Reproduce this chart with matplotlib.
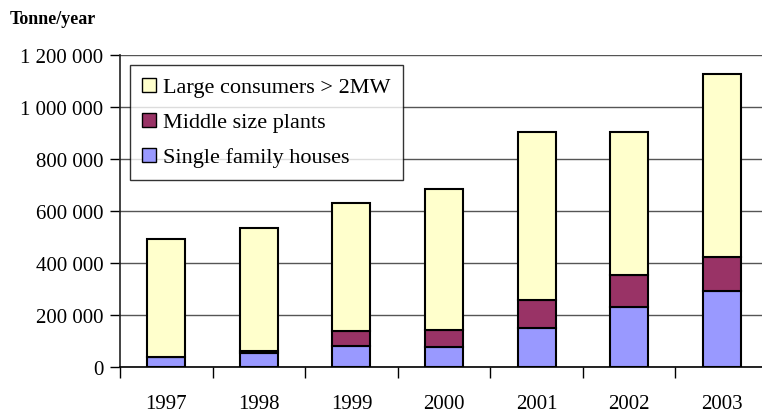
import matplotlib
matplotlib.use("Agg")
import matplotlib.pyplot as plt
from matplotlib.ticker import FuncFormatter, MultipleLocator
from matplotlib.patches import Patch
import numpy as np

years = ["1997", "1998", "1999", "2000", "2001", "2002", "2003"]
single_family = [41000, 54000, 81000, 80000, 151000, 231000, 293000]
middle_size = [0, 9000, 57000, 65000, 109000, 125000, 131000]
large_consumers = [452000, 473000, 493000, 540000, 646000, 550000, 705000]
series_names = ["Single family houses", "Middle size plants", "Large consumers > 2MW"]
colors = ["#9999FF", "#993366", "#FFFFCC"]

plt.rcParams['font.family'] = ['Liberation Serif', 'DejaVu Serif']

fig = plt.figure(figsize=(7.62, 4.14), dpi=100)
ax = fig.add_axes([120/762, (414-368.3)/414, 648/762, 312/414])

x = np.arange(len(years))
w = 0.41
bottom = np.zeros(len(years))
for vals, c in zip([single_family, middle_size, large_consumers], colors):
    ax.bar(x, vals, w, bottom=bottom, color=c, edgecolor='black', linewidth=1.5, zorder=3)
    bottom += np.array(vals)

ax.set_xlim(-0.5, len(years) - 0.5)
ax.set_ylim(0, 1200000)
ax.yaxis.set_major_locator(MultipleLocator(200000))
ax.yaxis.set_major_formatter(FuncFormatter(lambda v, p: f"{int(v):,}".replace(",", " ")))
ax.grid(axis='y', color='#555555', linewidth=1.0, zorder=0)
ax.set_xticks(x)
ax.set_xticklabels(years)
ax.set_xticks(np.arange(len(years) + 1) - 0.5, minor=True)
ax.tick_params(axis='x', which='major', length=0, pad=19.5, labelsize=15)
ax.tick_params(axis='x', which='minor', length=8, width=1, direction='out', color='black')
ax.tick_params(axis='y', length=7, width=1, direction='out', labelsize=15, pad=5)

for s in ['top', 'right']:
    ax.spines[s].set_visible(False)
ax.spines['left'].set_color('#222222')
ax.spines['bottom'].set_color('black')
ax.spines['left'].set_linewidth(1.2)
ax.spines['bottom'].set_linewidth(1.2)

handles = [Patch(facecolor=colors[i], edgecolor='black', label=series_names[i]) for i in [2, 1, 0]]
leg = ax.legend(handles=handles, loc='upper left', bbox_to_anchor=(10/648, 1 - 10/312),
                frameon=True, fancybox=False, shadow=False, fontsize=16,
                handlelength=0.6, handleheight=0.6, handletextpad=0.35,
                borderpad=0.55, labelspacing=0.68, borderaxespad=0)
leg.get_frame().set_edgecolor('black')
leg.get_frame().set_linewidth(1.0)
leg.set_zorder(5)

fig.text(10/762, 1 - 19/414, "Tonne/year", fontsize=13, fontweight='bold', va='center', ha='left')

fig.savefig("out.png", dpi=100)
